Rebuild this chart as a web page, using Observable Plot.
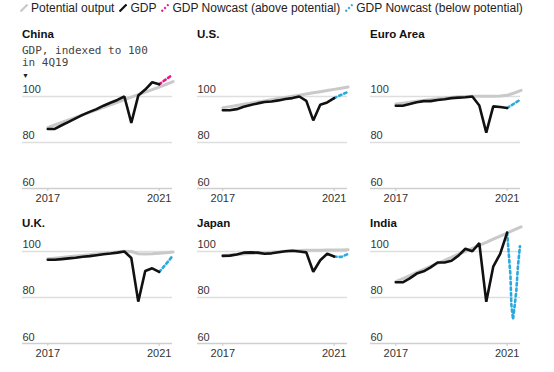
<!DOCTYPE html>
<html>
<head>
<meta charset="utf-8">
<script src="https://cdn.jsdelivr.net/npm/d3@7"></script>
<script src="https://cdn.jsdelivr.net/npm/@observablehq/plot@0.6"></script>
<style>
  html, body { margin: 0; padding: 0; background: #fff; }
  #root { position: relative; width: 554px; height: 372px; overflow: hidden; font-family: "Liberation Sans", Arial, sans-serif; color: #222; }
  .legend { position: absolute; left: 20px; top: 1px; display: flex; align-items: center; font-size: 12px; line-height: 14px; white-space: nowrap; }
  .legend .item { display: flex; align-items: center; margin-right: 5px; }
  .legend svg { margin-right: 3px; }
  .title { position: absolute; font-weight: bold; font-size: 11.5px; line-height: 13px; color: #111; white-space: nowrap; }
  .sub { position: absolute; font-family: "DejaVu Sans Mono", "Liberation Mono", monospace; font-size: 11px; line-height: 11.5px; color: #444; white-space: nowrap; }
  .tri { position: absolute; font-size: 7px; line-height: 7px; color: #222; }
  .panel { position: absolute; }
</style>
</head>
<body>
<div id="root"></div>
<script>
// ---- data ----
const countries = ["China", "U.S.", "Euro Area", "U.K.", "Japan", "India"];
const quarters = ["2017Q1","2017Q2","2017Q3","2017Q4","2018Q1","2018Q2","2018Q3","2018Q4",
                  "2019Q1","2019Q2","2019Q3","2019Q4","2020Q1","2020Q2","2020Q3","2020Q4","2021Q1"];
const potentialQuarters = quarters.concat(["2021Q2","2021Q3"]);
const xTicks = [2017, 2021];
const yTicks = [60, 80, 100];
const legendLabels = ["Potential output", "GDP", "GDP Nowcast (above potential)", "GDP Nowcast (below potential)"];
const subtitleLines = ["GDP, indexed to 100", "in 4Q19"];

const gdpChina = [85.9, 85.9, 87.5, 89.0, 90.5, 92.0, 93.3, 94.5, 96.0, 97.3, 98.5, 100.0, 88.5, 100.4, 103.0, 106.2, 105.3];
const gdpUS    = [94.0, 94.0, 94.5, 95.5, 96.3, 97.0, 97.6, 97.8, 98.3, 98.9, 99.3, 100.0, 98.1, 89.6, 96.4, 97.4, 99.3];
const gdpEuro  = [96.0, 96.0, 96.7, 97.5, 98.0, 98.0, 98.5, 98.8, 99.3, 99.5, 99.7, 100.0, 96.1, 84.3, 95.7, 95.4, 95.0];
const gdpUK    = [96.4, 96.4, 96.7, 97.0, 97.3, 97.7, 98.0, 98.4, 98.8, 99.1, 99.5, 100.0, 97.2, 78.2, 91.5, 92.7, 91.1];
const gdpJapan = [98.1, 98.2, 98.7, 99.5, 99.6, 99.5, 99.0, 99.2, 99.7, 100.1, 100.3, 100.0, 99.6, 91.2, 96.2, 99.0, 97.8];
const gdpIndia = [86.6, 86.6, 88.3, 90.4, 91.4, 93.1, 95.2, 95.2, 96.0, 98.2, 101.2, 100.1, 103.6, 78.1, 93.4, 99.0, 108.2];

const potChina = [86.5, 87.6, 88.7, 89.8, 90.9, 92.0, 93.1, 94.2, 95.3, 96.4, 97.5, 98.6, 99.7, 100.8, 101.9, 103.0, 104.1, 105.3, 106.5];
const potUS    = [95.1, 95.6, 96.1, 96.6, 97.1, 97.6, 98.1, 98.6, 99.1, 99.6, 100.1, 100.6, 101.1, 101.6, 102.1, 102.6, 103.1, 103.6, 104.1];
const potEuro  = [96.7, 97.1, 97.5, 97.9, 98.3, 98.7, 99.0, 99.3, 99.6, 99.9, 100.0, 100.1, 100.1, 100.1, 100.1, 100.2, 100.5, 101.5, 102.7];
const potUK    = [96.8, 97.1, 97.4, 97.7, 98.0, 98.3, 98.6, 98.9, 99.2, 99.5, 99.8, 100.1, 100.0, 99.0, 98.9, 99.0, 99.2, 99.5, 99.8];
const potJapan = [98.3, 98.5, 98.7, 98.9, 99.1, 99.3, 99.5, 99.7, 99.9, 100.1, 100.3, 100.4, 100.5, 100.5, 100.5, 100.6, 100.6, 100.7, 100.8];
const potIndia = [86.9, 88.2, 89.5, 90.9, 92.2, 93.5, 94.8, 96.1, 97.5, 98.8, 100.1, 101.4, 102.7, 104.0, 105.4, 106.7, 108.0, 109.4, 110.7];

const nowT       = [2021.0, 2021.25, 2021.48];
const nowChina   = [105.3, 107.5, 109.4];
const nowUS      = [99.3, 100.7, 101.9];
const nowEuro    = [95.0, 96.9, 98.7];
const nowUK      = [91.1, 94.6, 98.0];
const nowJapan   = [97.8, 97.6, 98.8];
const nowTIndia  = [2021.0, 2021.12, 2021.15, 2021.21, 2021.27, 2021.33, 2021.39, 2021.46];
const nowIndia   = [108.2, 89.5, 77.1, 70.5, 76.4, 82.9, 93.9, 102.3];
const nowAbove   = [true, false, false, false, false, false];

const colPotential = "#c9c9c9", colGDP = "#111111", colAbove = "#e8178a", colBelow = "#2aa9e0";

// ---- build ----
const gdps = [gdpChina, gdpUS, gdpEuro, gdpUK, gdpJapan, gdpIndia];
const pots = [potChina, potUS, potEuro, potUK, potJapan, potIndia];
const nows = [nowChina, nowUS, nowEuro, nowUK, nowJapan, nowIndia];
const nowTs = [nowT, nowT, nowT, nowT, nowT, nowTIndia];

const qt = q => +q.slice(0, 4) + (+q.slice(5) - 1) / 4;
const root = document.getElementById("root");

// legend
const legend = document.createElement("div");
legend.className = "legend";
const iconColors = [colPotential, colGDP, colAbove, colBelow];
const iconDash = [null, null, "2,2", "2,2"];
legendLabels.forEach((lab, i) => {
  const it = document.createElement("div");
  it.className = "item";
  const dash = iconDash[i] ? ` stroke-dasharray="${iconDash[i]}"` : "";
  it.innerHTML = `<svg width="8" height="8" viewBox="0 0 8 8"><line x1="0.5" y1="7.5" x2="7.5" y2="0.5" stroke="${iconColors[i]}" stroke-width="2.2"${dash}/></svg><span>${lab}</span>`;
  legend.appendChild(it);
});
root.appendChild(legend);

const colLeft = [22, 197, 370];
const rowTop = [40, 195];
const titleTop = [28, 217];

countries.forEach((name, k) => {
  const col = k % 3, row = Math.floor(k / 3);
  const t = document.createElement("div");
  t.className = "title";
  t.style.left = colLeft[col] + "px";
  t.style.top = titleTop[row] + "px";
  t.textContent = name;
  root.appendChild(t);

  const gdp = quarters.map((q, i) => ({t: qt(q), v: gdps[k][i]}));
  const pot = potentialQuarters.map((q, i) => ({t: qt(q), v: pots[k][i]}));
  const now = nowTs[k].map((tt, i) => ({t: tt, v: nows[k][i]}));

  const chart = Plot.plot({
    width: 150, height: 168,
    marginLeft: 0, marginRight: 0, marginTop: 28, marginBottom: 20,
    x: {domain: [2016.09, 2021.48]},
    y: {domain: [60, 112.17], axis: null},
    style: {overflow: "visible", fontFamily: "'Liberation Sans', Arial, sans-serif", fontSize: "11px", color: "#333", background: "transparent"},
    marks: [
      Plot.ruleY([80, 100], {stroke: "#dedede", strokeWidth: 1.3}),
      Plot.ruleY([60], {stroke: "#cfcfcf", strokeWidth: 1.3}),
      Plot.axisX({ticks: xTicks, tickFormat: d => String(d), tickSize: 3, tickPadding: 3, stroke: "#c8c8c8", fill: "#333", fontSize: 11, label: null}),
      Plot.text(yTicks, {y: d => d, text: d => String(d), frameAnchor: "left", textAnchor: "start", lineAnchor: "bottom", dy: -3, fill: "#333", fontSize: 11}),
      Plot.line(pot, {x: "t", y: "v", stroke: colPotential, strokeWidth: 3}),
      Plot.line(now, {x: "t", y: "v", stroke: nowAbove[k] ? colAbove : colBelow, strokeWidth: 2.6, strokeDasharray: "2.5,3"}),
      Plot.line(gdp, {x: "t", y: "v", stroke: colGDP, strokeWidth: 2.6, strokeLinejoin: "miter"})
    ]
  });
  const wrap = document.createElement("div");
  wrap.className = "panel";
  wrap.style.left = colLeft[col] + "px";
  wrap.style.top = rowTop[row] + "px";
  wrap.appendChild(chart);
  root.appendChild(wrap);
});

// China subtitle
const sub = document.createElement("div");
sub.className = "sub";
sub.style.left = "22px";
sub.style.top = "45px";
sub.innerHTML = subtitleLines.join("<br>");
root.appendChild(sub);
const tri = document.createElement("div");
tri.className = "tri";
tri.style.left = "22px";
tri.style.top = "72px";
tri.textContent = "▼";
root.appendChild(tri);
</script>
</body>
</html>
